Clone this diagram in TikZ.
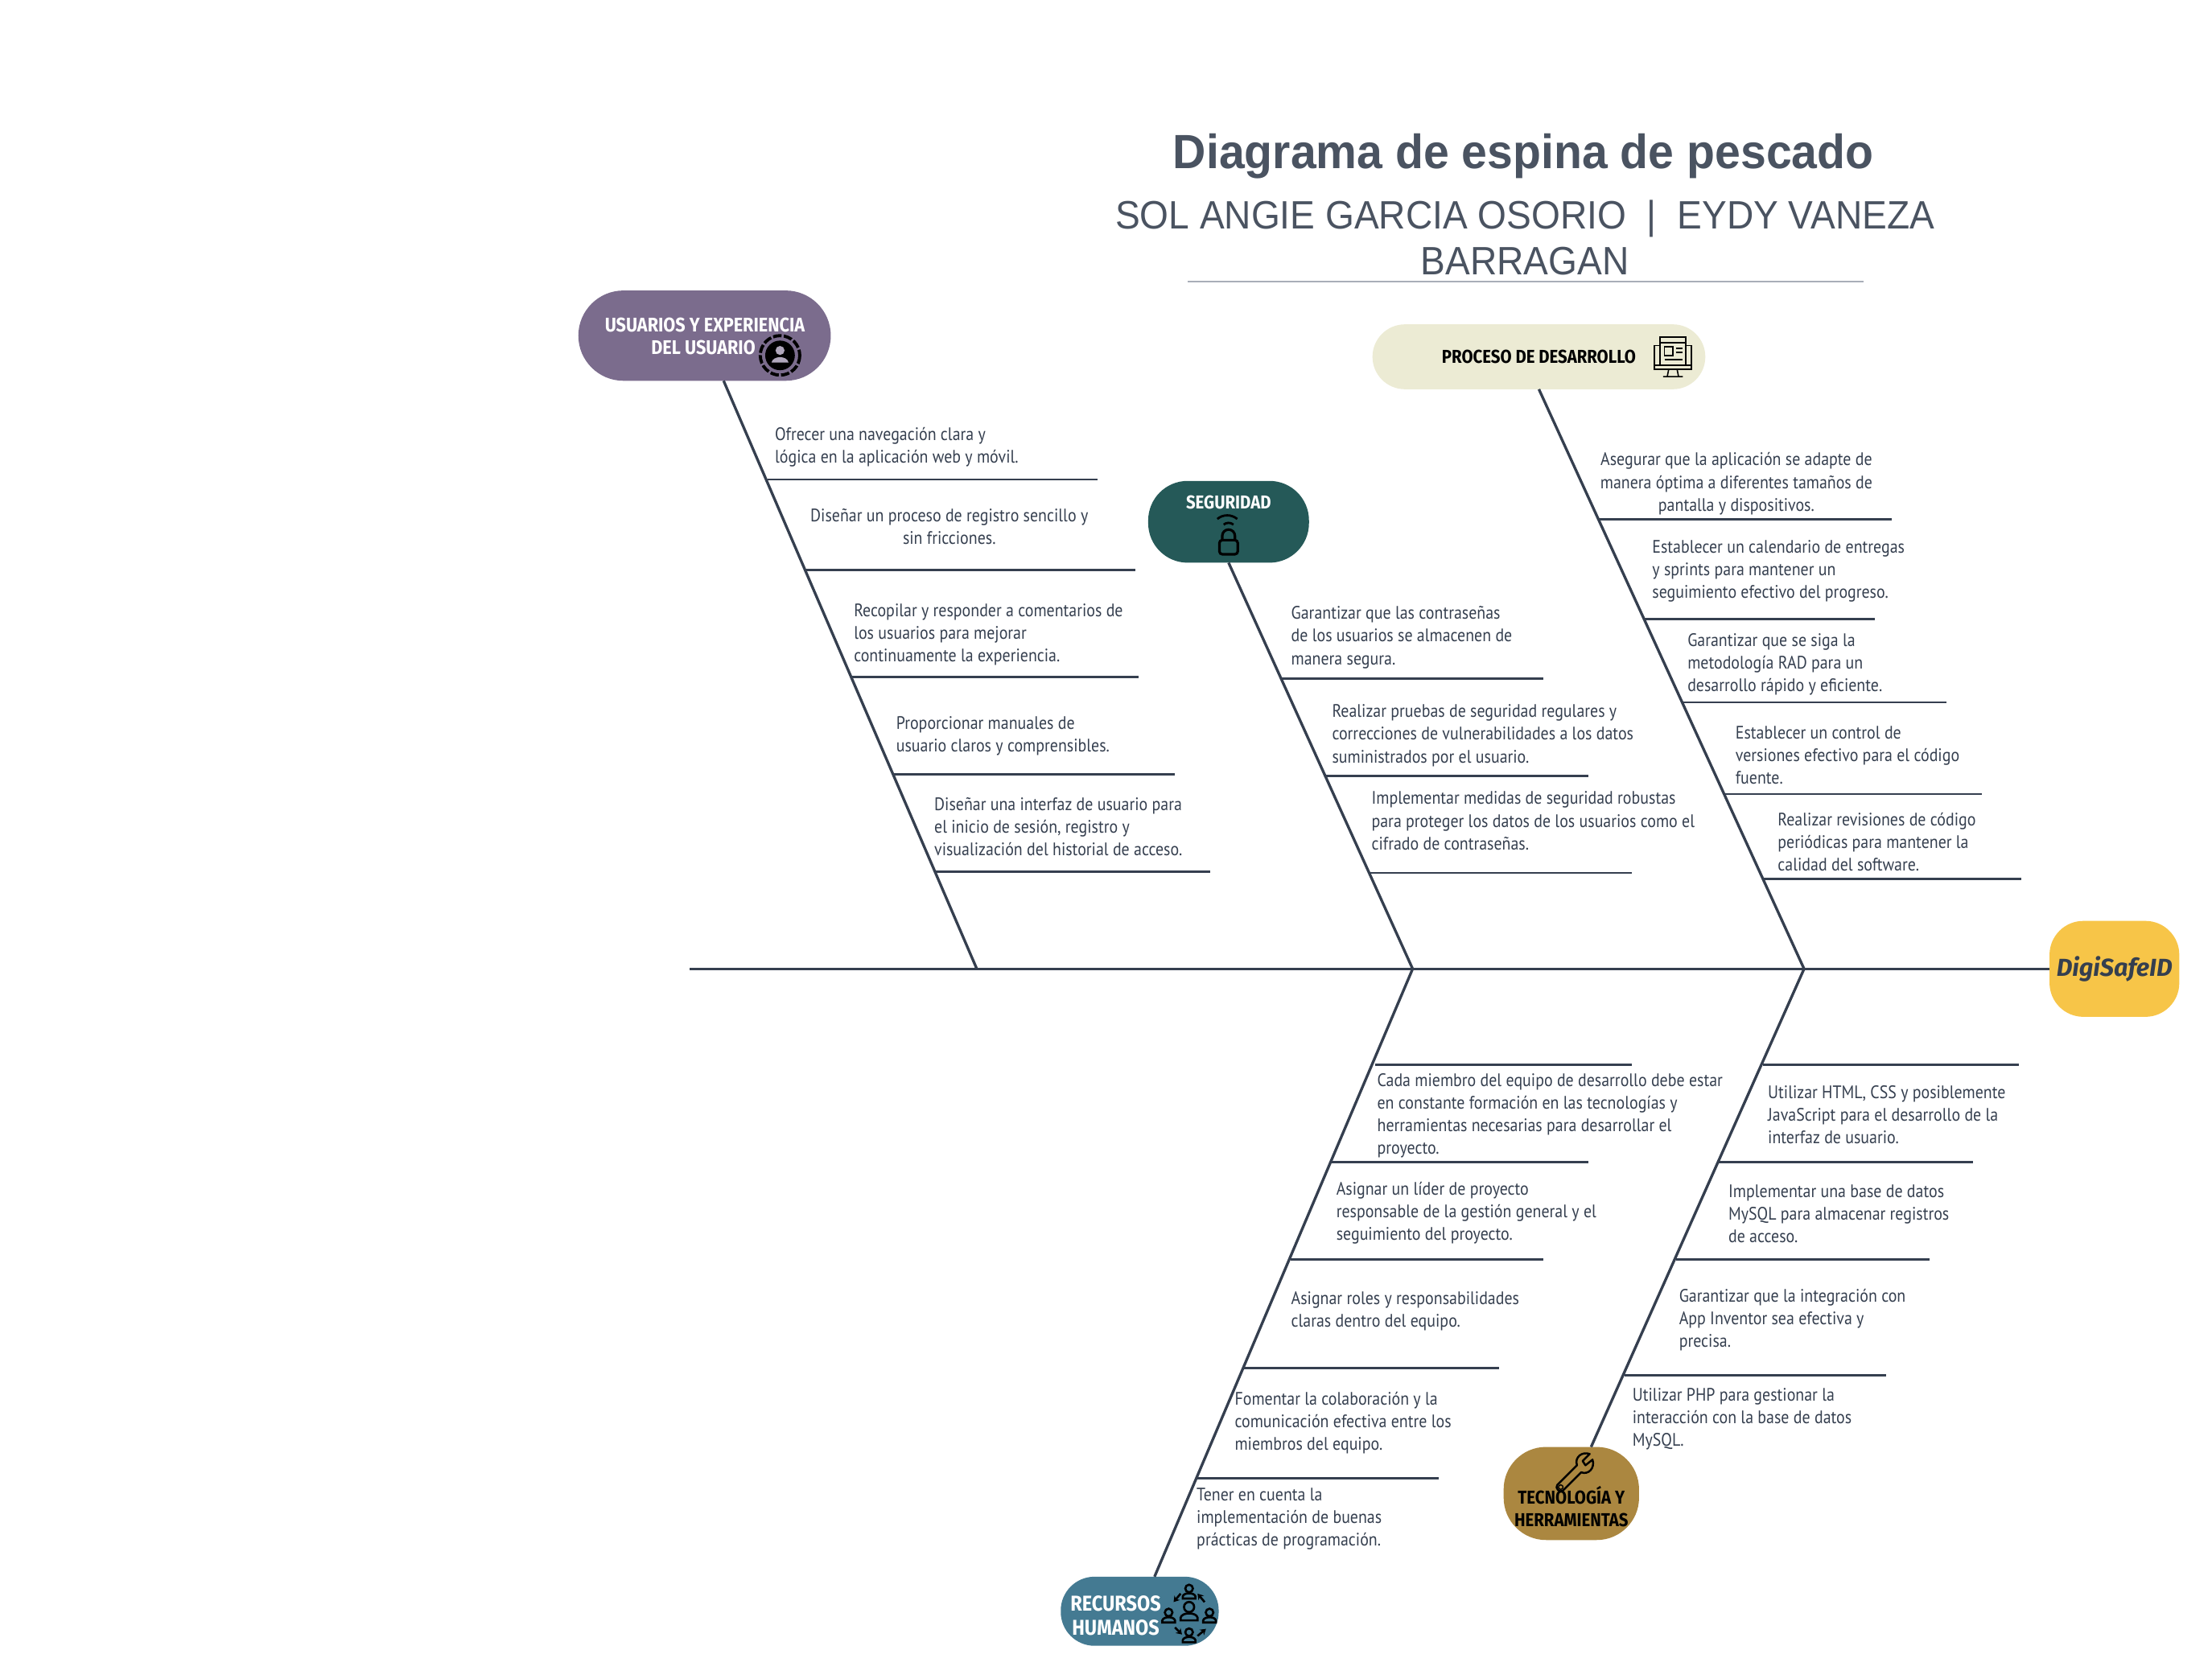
\documentclass[tikz,border=0pt]{standalone}
\usepackage{fontspec}
\setmainfont{Liberation Sans}
\newfontfamily\titlef[FakeStretch=0.957]{Liberation Sans}
\newfontfamily\subf[FakeStretch=0.937]{Liberation Sans}
\newfontfamily\bodyf[FakeStretch=0.885]{PT Sans}
\newfontfamily\headf[FakeStretch=0.88]{Fira Sans}
\newfontfamily\brandf{Fira Sans}
\usetikzlibrary{calc,arrows.meta}
\definecolor{ink}{HTML}{353F4F}
\definecolor{titlec}{HTML}{4A5361}
\definecolor{rulec}{HTML}{A9AEB8}
\definecolor{purplec}{HTML}{7B6C8D}
\definecolor{creamc}{HTML}{ECEBD4}
\definecolor{greenc}{HTML}{255958}
\definecolor{yellowc}{HTML}{F7C548}
\definecolor{tealc}{HTML}{447A92}
\definecolor{brownc}{HTML}{AB8740}
\tikzset{
  x=0.01753cm,y=-0.01753cm,
  bone/.style={draw=ink,line width=0.95pt},
  rib/.style={draw=ink,line width=0.8pt},
  lbl/.style={inner sep=0pt,anchor=west,align=left,text=ink,font=\bodyf\fontsize{6.4}{8}\selectfont},
  lblc/.style={lbl,anchor=center,align=center},
  hdw/.style={inner sep=0pt,align=center,text=white,font=\headf\bfseries\fontsize{6.6}{8}\selectfont},
  hdk/.style={hdw,text=black},
  box/.style={inner sep=0pt,outer sep=0pt,draw=none},
  ico/.style={draw=black,line width=0.6pt,fill=none},
  tip/.style={-{Stealth[length=2pt,width=2.5pt]}},
}
\newcommand{\boxnode}[8]{% name, fill, x, y, w, h, radius
  \node[box,fill=#2,rounded corners=#7*0.4988pt,minimum width=#5*0.4988pt,minimum height=#6*0.4988pt] (#1) at (#3,#4) {#8};}
\begin{document}
\begin{tikzpicture}
\useasboundingbox (0,0) rectangle (1568.2,1190.5);
% title
\node[inner sep=0pt,text=titlec,font=\titlef\bfseries\fontsize{17}{20}\selectfont] (title) at (1080,111) {Diagrama de espina de pescado};
\node[inner sep=0pt,text=titlec,align=center,font=\subf\fontsize{14}{16}\selectfont] (sub) at (1081,168.5) {SOL ANGIE GARCIA OSORIO \ |\ \ EYDY VANEZA\\BARRAGAN};
\coordinate (ruleL) at (842,199.5); \coordinate (ruleR) at (1321,199.5);
\draw[rulec,line width=0.5pt] (ruleL) -- (ruleR);
% head and category boxes
\boxnode{uxb}{purplec}{499.5}{238}{179}{64}{32}{}
\boxnode{devb}{creamc}{1091}{253}{236}{46}{23}{}
\boxnode{secb}{greenc}{871}{370}{114}{58}{28}{}
\boxnode{head}{yellowc}{1499}{687}{92}{68}{24}{}
\boxnode{hrb}{tealc}{808}{1142.5}{112}{49}{24}{}
\boxnode{techb}{brownc}{1114}{1059}{96}{66}{30}{}
\node[hdw,anchor=east,align=right,font=\headf\bfseries\fontsize{7}{8}\selectfont] (uxt) at (571,238.5) {USUARIOS Y EXPERIENCIA\\DEL USUARIO\hspace*{17.5pt}};
\node[hdk] (devt) at (1091,253) {PROCESO DE DESARROLLO};
\node[hdw] (sect) at (871,356) {SEGURIDAD};
\node[inner sep=0pt,text=ink,font=\brandf\bfseries\itshape\fontsize{8.7}{11}\selectfont] (headt) at (1499,687) {DigiSafeID};
\node[hdw,font=\headf\bfseries\fontsize{7.6}{8.5}\selectfont] (hrt) at (791,1145.5) {RECURSOS\\HUMANOS};
\node[hdk] (techt) at (1114,1068) {TECNOLOGÍA Y\\HERRAMIENTAS};
% spine
\coordinate (tail) at (489,687);
\coordinate (j1) at (692.5,687); \coordinate (j2) at (1001.5,687); \coordinate (j3) at (1279,687);
\draw[bone] (tail) -- (head.west);
% bones
\coordinate (b1) at (513,270); \coordinate (b2) at (871,399); \coordinate (b3) at (1091,276);
\coordinate (b4) at (818.5,1118); \coordinate (b5) at (1128,1026);
\draw[bone] (b1) -- (j1);
\draw[bone] (b2) -- (j2);
\draw[bone] (b3) -- (j3);
\draw[bone] (b4) -- (j2);
\draw[bone] (b5) -- (j3);
% ribs
\foreach \n/\a/\b/\y in {ua/544/778/340,ub/571/805/404,uc/603/807/480,ud/634/833/549,ue/663/858/618,
  sa/908/1094/481,sb/940/1126/550,sc/971/1157/619,
  da/1133/1341/368,db/1166/1329/439,dc/1193/1380/498,dd/1222/1405/563,de/1250/1433/623,
  ha/975/1157/755,hb/944/1126/824,hc/915/1094/893,hd/881/1063/970,he/848/1020/1048,
  ta/1250/1431/755,tb/1218/1399/824,tc/1188/1368/893,td/1152/1337/975}{
  \coordinate (\n L) at (\a,\y); \coordinate (\n R) at (\b,\y);
  \draw[rib] (\n L) -- (\n R);
}
% texts: users
\node[lbl] (u1) at (549,317) {Ofrecer una navegación clara y\\lógica en la aplicación web y móvil.};
\node[lblc] (u2) at (673,373.5) {Diseñar un proceso de registro sencillo y\\sin fricciones.};
\node[lbl] (u3) at (605,450) {Recopilar y responder a comentarios de\\los usuarios para mejorar\\continuamente la experiencia.};
\node[lbl] (u4) at (635,522) {Proporcionar manuales de\\usuario claros y comprensibles.};
\node[lbl] (u5) at (662,586) {Diseñar una interfaz de usuario para\\el inicio de sesión, registro y\\visualización del historial de acceso.};
% security
\node[lbl] (s1) at (915,452) {Garantizar que las contraseñas\\de los usuarios se almacenen de\\manera segura.};
\node[lbl] (s2) at (944,521.5) {Realizar pruebas de seguridad regulares y\\correcciones de vulnerabilidades a los datos\\suministrados por el usuario.};
\node[lbl] (s3) at (972,582) {Implementar medidas de seguridad robustas\\para proteger los datos de los usuarios como el\\cifrado de contraseñas.};
% process
\node[lblc] (d1) at (1231,343) {Asegurar que la aplicación se adapte de\\manera óptima a diferentes tamaños de\\pantalla y dispositivos.};
\node[lbl] (d2) at (1171,405) {Establecer un calendario de entregas\\y sprints para mantener un\\seguimiento efectivo del progreso.};
\node[lbl] (d3) at (1196,471) {Garantizar que se siga la\\metodología RAD para un\\desarrollo rápido y eficiente.};
\node[lbl] (d4) at (1230,535.5) {Establecer un control de\\versiones efectivo para el código\\fuente.};
\node[lbl] (d5) at (1260,597) {Realizar revisiones de código\\periódicas para mantener la\\calidad del software.};
% HR
\node[lbl] (h1) at (976,791) {Cada miembro del equipo de desarrollo debe estar\\en constante formación en las tecnologías y\\herramientas necesarias para desarrollar el\\proyecto.};
\node[lbl] (h2) at (947,860) {Asignar un líder de proyecto\\responsable de la gestión general y el\\seguimiento del proyecto.};
\node[lbl] (h3) at (915,929.5) {Asignar roles y responsabilidades\\claras dentro del equipo.};
\node[lbl] (h4) at (875,1009) {Fomentar la colaboración y la\\comunicación efectiva entre los\\miembros del equipo.};
\node[lbl] (h5) at (848,1077) {Tener en cuenta la\\implementación de buenas\\prácticas de programación.};
% tech
\node[lbl] (t1) at (1253,790.5) {Utilizar HTML, CSS y posiblemente\\JavaScript para el desarrollo de la\\interfaz de usuario.};
\node[lbl] (t2) at (1225,860.5) {Implementar una base de datos\\MySQL para almacenar registros\\de acceso.};
\node[lbl] (t3) at (1190,936) {Garantizar que la integración con\\App Inventor sea efectiva y\\precisa.};
\node[lbl] (t4) at (1157,1006) {Utilizar PHP para gestionar la\\interacción con la base de datos\\MySQL.};
% icon: user ring
\begin{scope}[shift={(553,252)}]
  \draw[black,line width=1.1pt,dash pattern=on 3pt off 0.8pt] (0,0) circle (14);
  \fill[black] (0,0) circle (10.5);
  \fill[purplec!60!white] (0,-3.5) circle (3.2);
  \fill[purplec!60!white] (-6,5) .. controls (-5,0) and (5,0) .. (6,5) -- cycle;
\end{scope}
% icon: monitor
\begin{scope}[shift={(1186,252)},ico/.append style={line width=0.45pt}]
  \draw[ico] (-9,-7) -- (-13,-7) -- (-13,7) -- (13,7) -- (13,-7) -- (9,-7);
  \draw[ico] (-9,7) -- (-9,-13) -- (9,-13) -- (9,7);
  \draw[ico] (-9,-9) -- (9,-9);
  \draw[ico] (-6,-6) rectangle (0,0);
  \draw[ico] (2,-5) -- (7,-5) (2,-2) -- (7,-2) (-6,3) -- (7,3);
  \draw[ico] (-13,7) -- (-13,10) -- (13,10) -- (13,7);
  \draw[ico] (-3,10) -- (-4,15) (3,10) -- (4,15) (-7,15) -- (7,15);
\end{scope}
% icon: lock with signal
\begin{scope}[shift={(871,380)}]
  \draw[ico,line width=0.9pt,rounded corners=1] (-6.5,3) rectangle (6.5,13);
  \draw[ico,line width=0.9pt] (-4.5,3) -- (-4.5,0) arc[start angle=180,end angle=360,radius=4.5] -- (4.5,3);
  \draw[ico,line width=0.8pt] (-3.5,-8) arc[start angle=-130,end angle=-50,radius=5.4];
  \draw[ico,line width=0.8pt] (-8,-12) arc[start angle=-130,end angle=-50,radius=11];
\end{scope}
% icon: team
\begin{scope}[shift={(843,1143)},ico/.append style={line width=0.75pt}]
  \foreach \px/\py/\r in {0/0/1,0/-14/0.75,-14.5/3/0.75,14.5/3/0.75,0/17/0.75}{
    \begin{scope}[shift={(\px,\py)},scale=\r]
      \draw[ico] (0,-3.5) circle (3.6);
      \draw[ico] (-6,6) -- (-6,4) .. controls (-5,0) and (5,0) .. (6,4) -- (6,6) -- cycle;
    \end{scope}
  }
  \draw[ico,tip] (-6,-13) -- (-11,-7);
  \draw[ico,tip] (11,-7) -- (6,-13);
  \draw[ico,tip] (-10,11) -- (-5,16);
  \draw[ico,tip] (6,17) -- (12,12);
\end{scope}
% icon: wrench
\begin{scope}[shift={(1117,1044)}]
  \draw[ico,line width=0.7pt,line join=round]
   (-13,9) -- (1,-5) .. controls (-1,-11) and (5,-15) .. (10,-13) -- (5,-8) -- (7,-5) -- (12,-9)
   .. controls (14,-3) and (9,2) .. (4,0) -- (-9,13) .. controls (-11,15) and (-15,11) .. (-13,9) -- cycle;
  \draw[ico,line width=0.4pt] (-10.5,10.5) circle (1.6);
\end{scope}
\end{tikzpicture}
\end{document}
